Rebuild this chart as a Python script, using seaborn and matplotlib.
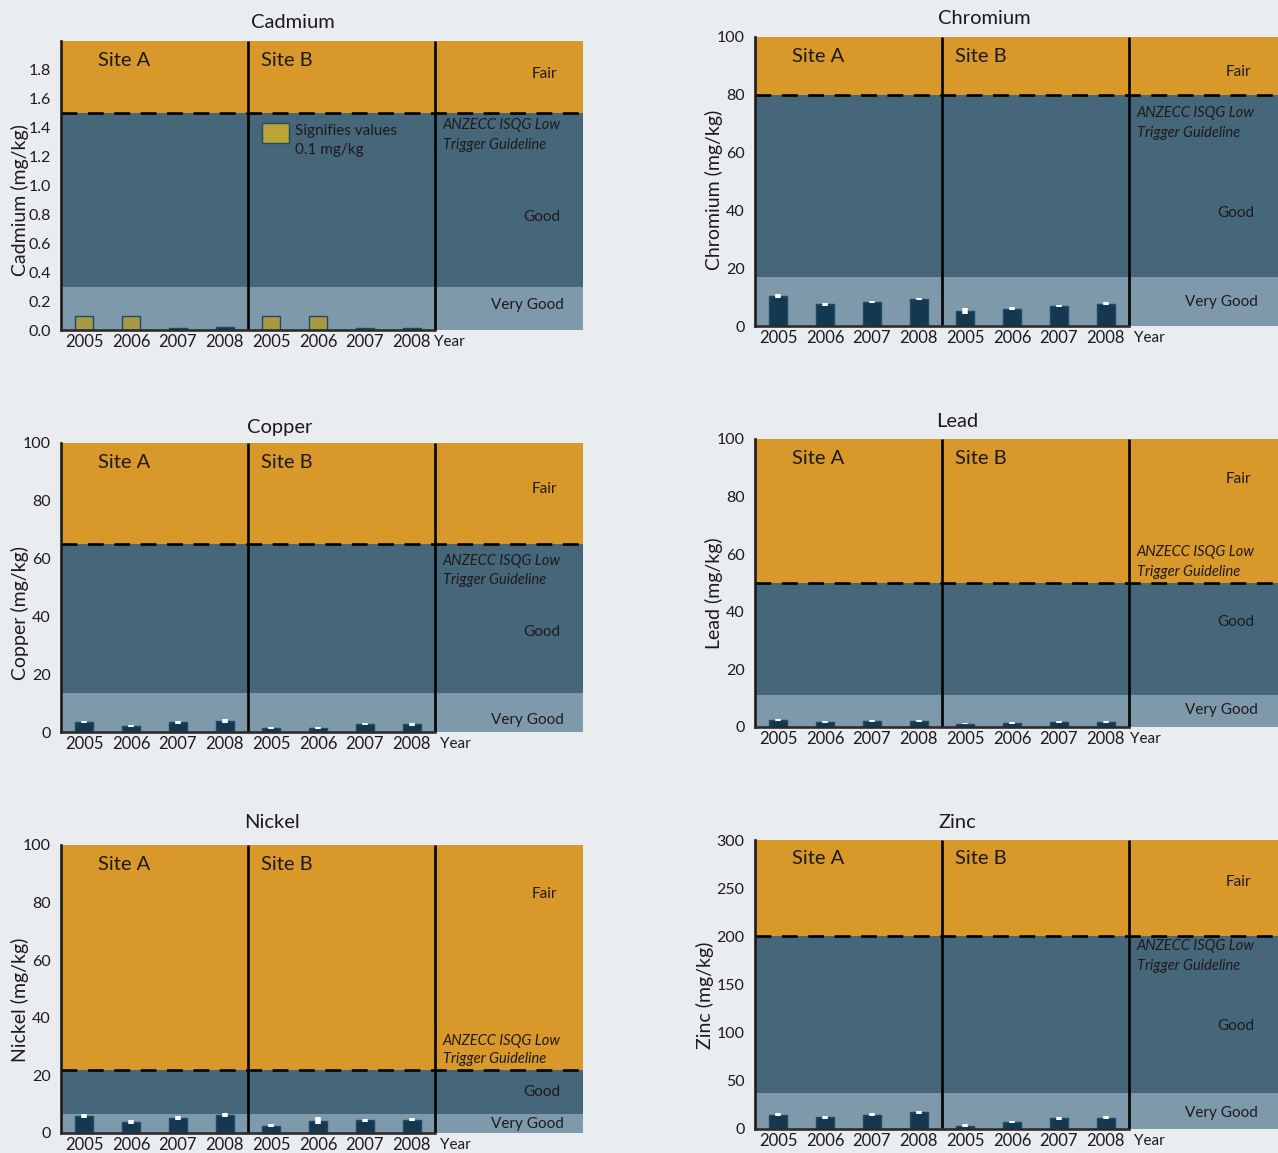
import matplotlib
matplotlib.use("Agg")
import matplotlib.pyplot as plt
import matplotlib.transforms as mtransforms
from matplotlib.patches import Rectangle
import numpy as np
import pandas as pd
import seaborn as sns

# ---- data -------------------------------------------------------------
years = ["2005", "2006", "2007", "2008"]
sites = ["Site A", "Site B"]

cadmium_a = [0.1, 0.1, 0.015, 0.02]
cadmium_b = [0.1, 0.1, 0.015, 0.015]
cadmium_flag_a = [True, True, False, False]   # shown at 0.1 mg/kg
cadmium_flag_b = [True, True, False, False]

chromium_a = [10.4, 7.5, 8.3, 9.3]
chromium_b = [5.2, 6.0, 7.0, 7.7]
chromium_err_a = [0.8, 0.5, 0.4, 0.4]
chromium_err_b = [0.9, 0.5, 0.4, 0.6]

copper_a = [3.4, 2.1, 3.4, 3.8]
copper_b = [1.5, 1.5, 2.8, 2.7]
copper_err_a = [0.4, 0.4, 0.5, 0.6]
copper_err_b = [0.3, 0.3, 0.4, 0.5]

lead_a = [2.4, 1.7, 2.1, 2.2]
lead_b = [1.2, 1.4, 1.7, 1.8]
lead_err_a = [0.4, 0.4, 0.4, 0.4]
lead_err_b = [0.3, 0.4, 0.4, 0.4]

nickel_a = [5.8, 3.8, 5.2, 6.1]
nickel_b = [2.6, 4.3, 4.4, 4.6]
nickel_err_a = [0.7, 0.7, 0.8, 0.7]
nickel_err_b = [0.6, 1.2, 0.5, 0.6]

zinc_a = [15.0, 12.0, 15.0, 17.3]
zinc_b = [3.5, 7.3, 11.0, 11.7]
zinc_err_a = [1.8, 1.8, 1.8, 1.8]
zinc_err_b = [1.8, 1.5, 1.2, 1.8]

# condition bands: upper limit of "Very Good", trigger guideline (start of "Fair"), axis top
cadmium_bands = [0.3, 1.5, 2.0]
chromium_bands = [17, 80, 100]
copper_bands = [13.5, 65, 100]
lead_bands = [11, 50, 100]
nickel_bands = [6.5, 22, 100]
zinc_bands = [37, 200, 300]

zone_names = ["Very Good", "Good", "Fair"]
guideline_text = ["ANZECC ISQG Low", "Trigger Guideline"]

# ---- styling ----------------------------------------------------------
BG = "#E9EDF0"
FAIR = "#D8982A"
GOOD = "#46677A"
VGOOD = "#7E99AA"
BAR = "#0B3A5A"
FLAG = "#B8A535"
INK = "#1E1A1B"

sns.set_style("white", {"axes.facecolor": BG, "figure.facecolor": BG})
plt.rcParams["font.family"] = ["Lato", "DejaVu Sans"]

W, H = 1278, 1153
fig = plt.figure(figsize=(W / 100, H / 100), dpi=100, facecolor=BG)

SLOT = 46.75  # pixel width of one year slot


def px_axes(l, t, r, b):
    return fig.add_axes([l / W, 1 - b / H, (r - l) / W, (b - t) / H])


panels = [
    dict(name="Cadmium", a=cadmium_a, b=cadmium_b, ea=None, eb=None,
         fa=cadmium_flag_a, fb=cadmium_flag_b, bands=cadmium_bands,
         yticks=np.arange(0, 1.81, 0.2), fmt="{:.1f}",
         box=(61, 41, 583, 330), title_x=293, title_y=22, ylab=(20, 200),
         lab_y=dict(fair=1.77, good=0.78, vg=0.17, anz=(1.42, 1.28)), year_x=7.98),
    dict(name="Chromium", a=chromium_a, b=chromium_b, ea=chromium_err_a, eb=chromium_err_b,
         bands=chromium_bands, yticks=np.arange(0, 101, 20), fmt="{:.0f}",
         box=(755, 37, 1278, 326), title_x=984, title_y=18, ylab=(714, 190),
         lab_y=dict(fair=88, good=39, vg=8.3, anz=(73.7, 66.8)), year_x=8.1),
    dict(name="Copper", a=copper_a, b=copper_b, ea=copper_err_a, eb=copper_err_b,
         bands=copper_bands, yticks=np.arange(0, 101, 20), fmt="{:.0f}",
         box=(61, 443, 583, 732), title_x=280, title_y=427, ylab=(20, 613),
         lab_y=dict(fair=84, good=34.6, vg=4.2, anz=(59, 52.6)), year_x=8.1),
    dict(name="Lead", a=lead_a, b=lead_b, ea=lead_err_a, eb=lead_err_b,
         bands=lead_bands, yticks=np.arange(0, 101, 20), fmt="{:.0f}",
         box=(755, 439, 1278, 727), title_x=957, title_y=422, ylab=(714, 593),
         lab_y=dict(fair=86, good=36.5, vg=5.9, anz=(60.8, 53.8)), year_x=8.02),
    dict(name="Nickel", a=nickel_a, b=nickel_b, ea=nickel_err_a, eb=nickel_err_b,
         bands=nickel_bands, yticks=np.arange(0, 101, 20), fmt="{:.0f}",
         box=(61, 845, 583, 1133), title_x=272, title_y=822, ylab=(20, 1000),
         lab_y=dict(fair=83, good=14.2, vg=3.1, anz=(32, 25.7)), year_x=8.1),
    dict(name="Zinc", a=zinc_a, b=zinc_b, ea=zinc_err_a, eb=zinc_err_b,
         bands=zinc_bands, yticks=np.arange(0, 301, 50), fmt="{:.0f}",
         box=(755, 840, 1278, 1129), title_x=957, title_y=823, ylab=(705, 995),
         lab_y=dict(fair=256, good=107, vg=16.6, anz=(190, 169)), year_x=8.1),
]

LW = 1.9  # points

for p in panels:
    l, t, r, b = p["box"]
    ax = px_axes(l, t, r, b)
    xmax = (r - l) / SLOT
    vg_top, fair_low, ymax = p["bands"]

    # condition zones
    ax.axhspan(0, vg_top, color=VGOOD, lw=0, zorder=0)
    ax.axhspan(vg_top, fair_low, color=GOOD, lw=0, zorder=0)
    ax.axhspan(fair_low, ymax, color=FAIR, lw=0, zorder=0)

    # bars
    pos = [i + 0.5 for i in range(4)] + [i + 4.5 for i in range(4)]
    flags = (p.get("fa") or [False] * 4) + (p.get("fb") or [False] * 4)
    df = pd.DataFrame({
        "pos": pos,
        "value": list(p["a"]) + list(p["b"]),
        "kind": ["flag" if f else "measured" for f in flags],
    })
    sns.barplot(data=df, x="pos", y="value", hue="kind", native_scale=True,
                palette={"flag": FLAG, "measured": BAR}, width=0.39, dodge=False,
                errorbar=None, legend=False, edgecolor="#1F4A66", linewidth=1.0,
                ax=ax, zorder=3)
    if p["ea"] is not None:
        ax.errorbar(df["pos"], df["value"], yerr=list(p["ea"]) + list(p["eb"]),
                    fmt="none", ecolor="white", elinewidth=4.0, capsize=0, zorder=4)

    # guideline and site dividers
    ax.axhline(fair_low, color="black", lw=LW, dashes=(6, 4), zorder=5)
    ax.vlines([4, 8], 0, ymax, color="black", lw=LW, zorder=6)

    ax.set_xlim(0, xmax)
    ax.set_ylim(0, ymax)
    ax.set_xlabel("")
    ax.set_ylabel("")

    # axes styling
    for s in ["top", "right"]:
        ax.spines[s].set_visible(False)
    ax.spines["left"].set_color(INK)
    ax.spines["left"].set_linewidth(LW)
    ax.spines["left"].set_zorder(7)
    ax.spines["bottom"].set_color("#2E2B2C")
    ax.spines["bottom"].set_linewidth(LW)
    ax.spines["bottom"].set_bounds(0, 8)
    ax.spines["bottom"].set_zorder(7)

    ax.set_yticks(p["yticks"])
    ax.set_yticklabels([p["fmt"].format(v) for v in p["yticks"]])
    ax.tick_params(axis="y", direction="out", length=4.5, width=LW, color=INK,
                   labelsize=11.5, labelcolor=INK, pad=3)
    ax.set_xticks(pos)
    ax.set_xticklabels(years + years)
    ax.set_xticks([1, 2, 3, 5, 6, 7], minor=True)
    ax.tick_params(axis="x", which="major", length=0, labelsize=12,
                   labelcolor=INK, pad=3)
    ax.tick_params(axis="x", which="minor", direction="in", length=5,
                   width=LW, color="#2E2B2C")
    ax.grid(False)

    # text annotations
    trans = mtransforms.blended_transform_factory(ax.transData, ax.transAxes)
    top_off = 1 - 19 / (b - t)
    ax.text(0.8, top_off, sites[0], transform=trans, fontsize=14.5, color=INK,
            ha="left", va="center", zorder=8)
    ax.text(4.28, top_off, sites[1], transform=trans, fontsize=14.5, color=INK,
            ha="left", va="center", zorder=8)

    ly = p["lab_y"]
    ax.text(10.62, ly["fair"], zone_names[2], fontsize=11, color=INK, ha="right", va="center")
    ax.text(10.68, ly["good"], zone_names[1], fontsize=11, color=INK, ha="right", va="center")
    ax.text(10.75, ly["vg"], zone_names[0], fontsize=11, color=INK, ha="right", va="center")
    ax.text(8.17, ly["anz"][0], guideline_text[0], fontsize=10.5, style="italic",
            color=INK, ha="left", va="center")
    ax.text(8.17, ly["anz"][1], guideline_text[1], fontsize=10.5, style="italic",
            color=INK, ha="left", va="center")

    ax.annotate("Year", xy=(p["year_x"], 0), xycoords=trans, xytext=(0, -3.6),
                textcoords="offset points", fontsize=11, color=INK,
                ha="left", va="top", annotation_clip=False)

    fig.text(p["title_x"] / W, 1 - p["title_y"] / H, p["name"], fontsize=14.5,
             color=INK, ha="center", va="center")
    fig.text(p["ylab"][0] / W, 1 - p["ylab"][1] / H, f"{p['name']} (mg/kg)",
             fontsize=14, color=INK, rotation=90, ha="center", va="center")

    if p["name"] == "Cadmium":
        ax.add_patch(Rectangle((4.3, 1.294), 0.58, 0.138, facecolor=FLAG,
                               edgecolor="#1F4A66", lw=1.0, zorder=8))
        ax.text(5.0, 1.377, "Signifies values", fontsize=11, color=INK,
                ha="left", va="center", zorder=8)
        ax.text(5.0, 1.246, "0.1 mg/kg", fontsize=11, color=INK,
                ha="left", va="center", zorder=8)

fig.savefig("out.png", dpi=100, facecolor=BG)
